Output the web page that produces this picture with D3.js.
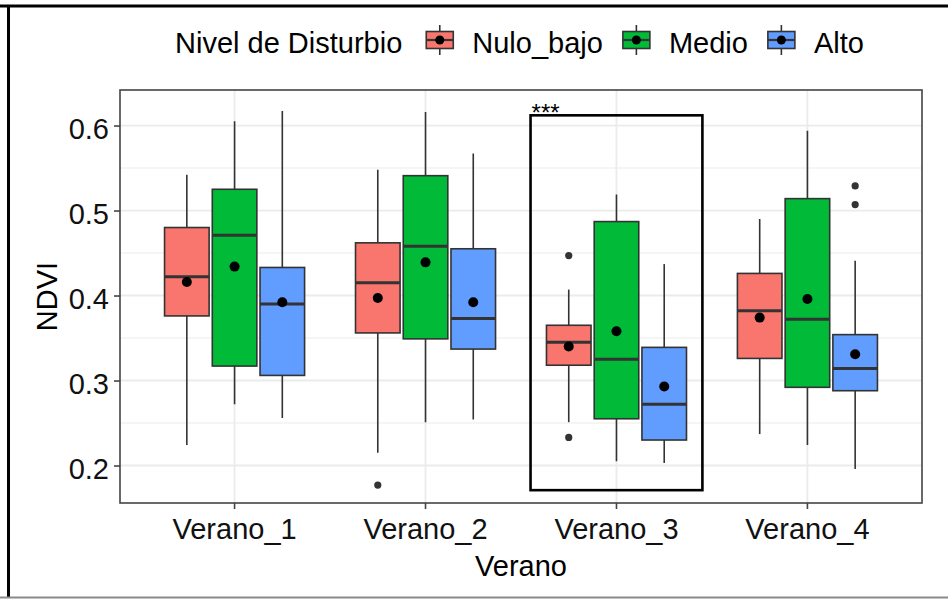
<!DOCTYPE html>
<html>
<head>
<meta charset="utf-8">
<script src="https://cdn.jsdelivr.net/npm/d3@7"></script>
<style>
  body { margin: 0; background: #fff; }
  text { font-family: "Liberation Sans", Arial, sans-serif; }
</style>
</head>
<body>
<div id="chart"></div>
<script>
var svgWidth = 948;
var svgHeight = 599;

// panel box (ggplot theme_bw look)
var panel = { left: 120, right: 922, top: 90, bottom: 503 };

// data
var veranos = ["Verano_1", "Verano_2", "Verano_3", "Verano_4"];
var niveles = ["Nulo_bajo", "Medio", "Alto"];
var colores = ["#F8766D", "#00BA38", "#619CFF"];

// one row per nivel, one column per verano
var bigoteSup = [
    [0.542, 0.548, 0.407, 0.490],
    [0.605, 0.616, 0.519, 0.594],
    [0.617, 0.567, 0.437, 0.441]
];
var cuartil3 = [
    [0.480, 0.462, 0.365, 0.426],
    [0.525, 0.541, 0.487, 0.514],
    [0.433, 0.455, 0.339, 0.354]
];
var mediana = [
    [0.422, 0.415, 0.345, 0.382],
    [0.471, 0.458, 0.325, 0.372],
    [0.390, 0.373, 0.272, 0.314]
];
var cuartil1 = [
    [0.376, 0.356, 0.318, 0.326],
    [0.317, 0.349, 0.255, 0.292],
    [0.306, 0.337, 0.230, 0.288]
];
var bigoteInf = [
    [0.224, 0.215, 0.251, 0.237],
    [0.272, 0.251, 0.205, 0.224],
    [0.256, 0.254, 0.203, 0.196]
];
var media = [
    [0.416, 0.397, 0.340, 0.374],
    [0.434, 0.439, 0.358, 0.396],
    [0.392, 0.392, 0.293, 0.331]
];
var atipicos = [
    [[], [0.177], [0.447, 0.233], []],
    [[], [], [], []],
    [[], [], [], [0.529, 0.507]]
];

var yTicks = [0.2, 0.3, 0.4, 0.5, 0.6];
var yMinor = [0.25, 0.35, 0.45, 0.55];

// highlighted group
var destacado = { verano: "Verano_3", yMin: 0.171, yMax: 0.612, label: "***" };

var boxes = [];
niveles.forEach(function(n, i) {
    veranos.forEach(function(v, j) {
        boxes.push({
            verano: v, nivel: n, color: colores[i],
            lo: bigoteInf[i][j], q1: cuartil1[i][j], med: mediana[i][j],
            q3: cuartil3[i][j], hi: bigoteSup[i][j], mean: media[i][j],
            out: atipicos[i][j]
        });
    });
});

var svg = d3.select("#chart")
    .append("svg")
    .attr("width", svgWidth)
    .attr("height", svgHeight);

// scales
var x = d3.scaleBand()
    .domain(veranos)
    .range([panel.left, panel.right])
    .paddingInner(0)
    .paddingOuter(0.1);

var bw = x.bandwidth();
var xDodge = d3.scaleBand()
    .domain(niveles)
    .range([-0.375 * bw, 0.375 * bw]);
var boxW = 0.7 / 3 * bw;

var y = d3.scaleLinear()
    .domain([0.1559, 0.6418])
    .range([panel.bottom, panel.top]);

function cx(d) { return x(d.verano) + bw / 2 + xDodge(d.nivel) + xDodge.bandwidth() / 2; }

// outer frame of the image
svg.append("line").attr("x1", 0).attr("x2", svgWidth).attr("y1", 6).attr("y2", 6)
    .attr("stroke", "#000").attr("stroke-width", 3);
svg.append("line").attr("x1", 8.5).attr("x2", 8.5).attr("y1", 5).attr("y2", 597)
    .attr("stroke", "#000").attr("stroke-width", 3);
svg.append("line").attr("x1", 0).attr("x2", svgWidth).attr("y1", 597.5).attr("y2", 597.5)
    .attr("stroke", "#8a8a8a").attr("stroke-width", 2);

// grid
var grid = svg.append("g");
grid.selectAll(".minor").data(yMinor).enter().append("line")
    .attr("x1", panel.left).attr("x2", panel.right)
    .attr("y1", d => y(d)).attr("y2", d => y(d))
    .attr("stroke", "#EBEBEB").attr("stroke-width", 1);
grid.selectAll(".major").data(yTicks).enter().append("line")
    .attr("x1", panel.left).attr("x2", panel.right)
    .attr("y1", d => y(d)).attr("y2", d => y(d))
    .attr("stroke", "#EBEBEB").attr("stroke-width", 1.8);
grid.selectAll(".vmajor").data(veranos).enter().append("line")
    .attr("x1", d => x(d) + bw / 2).attr("x2", d => x(d) + bw / 2)
    .attr("y1", panel.top).attr("y2", panel.bottom)
    .attr("stroke", "#EBEBEB").attr("stroke-width", 1.8);

// boxplots
var boxG = svg.append("g").selectAll("g")
    .data(boxes)
    .enter()
    .append("g");

boxG.append("line")
    .attr("x1", cx).attr("x2", cx)
    .attr("y1", d => y(d.hi)).attr("y2", d => y(d.lo))
    .attr("stroke", "#333").attr("stroke-width", 1.6);

boxG.append("rect")
    .attr("x", d => cx(d) - boxW / 2)
    .attr("width", boxW)
    .attr("y", d => y(d.q3))
    .attr("height", d => y(d.q1) - y(d.q3))
    .attr("fill", d => d.color)
    .attr("stroke", "#333").attr("stroke-width", 1.6);

boxG.append("line")
    .attr("x1", d => cx(d) - boxW / 2).attr("x2", d => cx(d) + boxW / 2)
    .attr("y1", d => y(d.med)).attr("y2", d => y(d.med))
    .attr("stroke", "#333").attr("stroke-width", 3);

boxG.selectAll(".out")
    .data(d => d.out.map(v => ({ d: d, v: v })))
    .enter()
    .append("circle")
    .attr("cx", o => cx(o.d))
    .attr("cy", o => y(o.v))
    .attr("r", 3.6)
    .attr("fill", "#333");

boxG.append("circle")
    .attr("cx", cx)
    .attr("cy", d => y(d.mean))
    .attr("r", 5)
    .attr("fill", "#000");

// highlight rectangle + significance label
var hx0 = x(destacado.verano) + bw / 2 - 0.45 * bw;
var hx1 = x(destacado.verano) + bw / 2 + 0.45 * bw;
svg.append("rect")
    .attr("x", hx0).attr("width", hx1 - hx0)
    .attr("y", y(destacado.yMax)).attr("height", y(destacado.yMin) - y(destacado.yMax))
    .attr("fill", "none").attr("stroke", "#000").attr("stroke-width", 2.6);
svg.append("text")
    .attr("x", hx0 + 1)
    .attr("y", y(destacado.yMax) + 6)
    .attr("font-size", 24)
    .text(destacado.label);

// panel border
svg.append("rect")
    .attr("x", panel.left).attr("y", panel.top)
    .attr("width", panel.right - panel.left).attr("height", panel.bottom - panel.top)
    .attr("fill", "none").attr("stroke", "#444").attr("stroke-width", 1.6);

// axes
var leftAxis = d3.axisLeft(y).tickValues(yTicks).tickFormat(d3.format(".1f"))
    .tickSize(6).tickPadding(5);
var yAxis = svg.append("g")
    .attr("transform", `translate(${panel.left}, 0)`)
    .call(leftAxis);

var bottomAxis = d3.axisBottom(x).tickSize(6).tickPadding(8);
var xAxis = svg.append("g")
    .attr("transform", `translate(0, ${panel.bottom})`)
    .call(bottomAxis);

[yAxis, xAxis].forEach(function(a) {
    a.select(".domain").remove();
    a.selectAll(".tick line").attr("stroke", "#444").attr("stroke-width", 1.6);
    a.selectAll(".tick text")
        .attr("font-size", 29)
        .attr("font-family", "Liberation Sans, Arial, sans-serif")
        .attr("fill", "#111");
});
yAxis.selectAll(".tick text").attr("dy", "0.44em");
xAxis.selectAll(".tick text").attr("dy", null).attr("y", 36);

// axis titles
svg.append("text")
    .attr("x", (panel.left + panel.right) / 2)
    .attr("y", 576)
    .attr("text-anchor", "middle")
    .attr("font-size", 29)
    .attr("fill", "#000")
    .text("Verano");

svg.append("text")
    .attr("transform", "rotate(-90)")
    .attr("x", -(panel.top + panel.bottom) / 2)
    .attr("y", 57)
    .attr("text-anchor", "middle")
    .attr("font-size", 29)
    .attr("fill", "#000")
    .text("NDVI");

// legend
var legend = svg.append("g");
var legTitle = legend.append("text")
    .attr("x", 175).attr("y", 53)
    .attr("font-size", 29)
    .text("Nivel de Disturbio");
var lx = 175 + legTitle.node().getComputedTextLength() + 24;
var keyW = 27, keyMid = 40;

niveles.forEach(function(n, i) {
    var k = legend.append("g").attr("transform", `translate(${lx}, 0)`);
    k.append("line")
        .attr("x1", keyW / 2).attr("x2", keyW / 2)
        .attr("y1", keyMid - 15).attr("y2", keyMid + 15)
        .attr("stroke", "#333").attr("stroke-width", 1.6);
    k.append("rect")
        .attr("x", 0).attr("y", keyMid - 8.5)
        .attr("width", keyW).attr("height", 17)
        .attr("fill", colores[i])
        .attr("stroke", "#333").attr("stroke-width", 1.6);
    k.append("line")
        .attr("x1", 0).attr("x2", keyW)
        .attr("y1", keyMid).attr("y2", keyMid)
        .attr("stroke", "#333").attr("stroke-width", 2.2);
    k.append("circle")
        .attr("cx", keyW / 2).attr("cy", keyMid)
        .attr("r", 4.5).attr("fill", "#000");
    var t = legend.append("text")
        .attr("x", lx + keyW + 19).attr("y", 53)
        .attr("font-size", 29)
        .text(n);
    lx = lx + keyW + 19 + t.node().getComputedTextLength() + 20;
});
</script>
</body>
</html>
